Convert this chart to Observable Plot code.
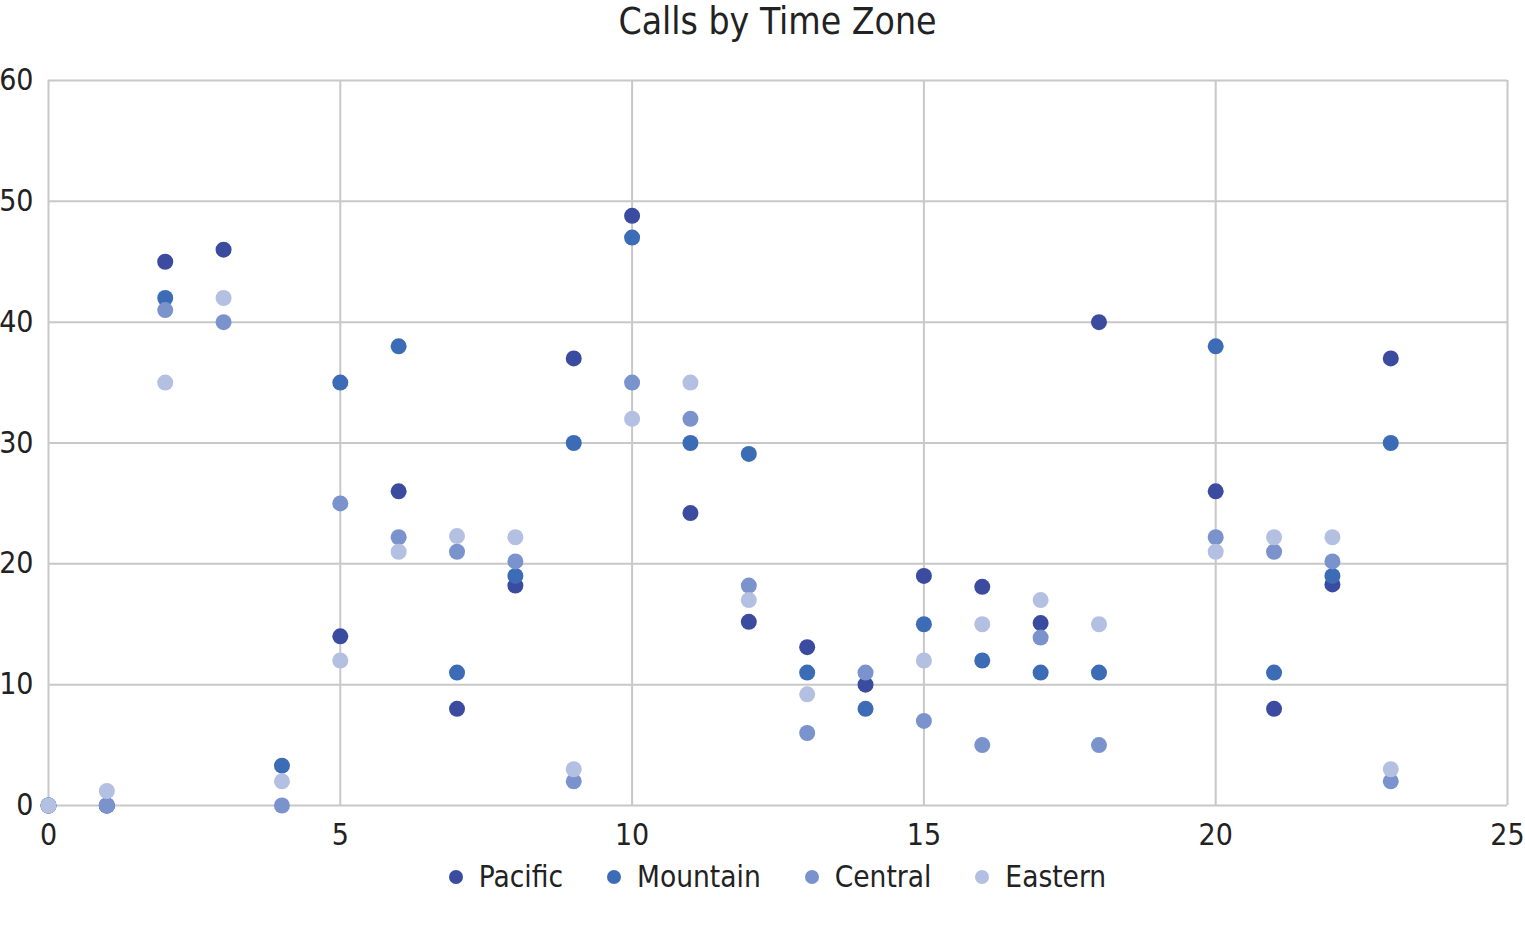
<!DOCTYPE html>
<html>
<head>
<meta charset="utf-8">
<script src="https://cdn.jsdelivr.net/npm/d3@7"></script>
<script src="https://cdn.jsdelivr.net/npm/@observablehq/plot@0.6"></script>
<style>
  html, body { margin: 0; padding: 0; background: #fff; }
  body { width: 1525px; height: 925px; overflow: hidden; font-family: "DejaVu Sans Condensed", "DejaVu Sans", sans-serif; font-stretch: condensed; color: #222; }
  svg, svg text { font-stretch: condensed; }
  #wrap { position: relative; width: 1525px; height: 925px; }
  #title { position: absolute; left: 48px; width: 1459px; top: -3px; text-align: center; font-size: 37px; line-height: 50px; color: #222; }
  #chart { position: absolute; left: 0; top: 0; }
  #legend { position: absolute; left: 48px; width: 1459px; top: 857px; display: flex; justify-content: center; align-items: center; font-size: 29.5px; line-height: 40px; color: #222; }
  .item { display: flex; align-items: center; margin: 0 22px; }
  .sw { width: 14px; height: 14px; border-radius: 50%; margin-right: 16px; }
</style>
</head>
<body>
<div id="wrap">
  <div id="chart"></div>
  <div id="title">Calls by Time Zone</div>
  <div id="legend"></div>
</div>
<script>
const hours = [0,1,2,3,4,5,6,7,8,9,10,11,12,13,14,15,16,17,18,19,20,21,22,23];
const pacific  = [0,0,45,46,null,14,26,8,18.2,37,48.8,24.2,15.2,13.1,10,19,18.1,15.1,40,null,26,8,18.3,37];
const mountain = [0,0,42,null,3.3,35,38,11,19,30,47,30,29.1,11,8,15,12,11,11,null,38,11,19,30];
const central  = [0,0,41,40,0,25,22.2,21,20.2,2,35,32,18.2,6,11,7,5,13.9,5,null,22.2,21,20.2,2];
const eastern  = [0,1.2,35,42,2,12,21,22.3,22.2,3,32,35,17,9.2,null,12,15,17,15,null,21,22.2,22.2,3];
const seriesNames = ["Pacific","Mountain","Central","Eastern"];
const seriesColors = ["#3a4ba0","#3d6cb6","#7b93cd","#b3c0e2"];
const xTicks = [0,5,10,15,20,25];
const yTicks = [0,10,20,30,40,50,60];

const seriesValues = [pacific, mountain, central, eastern];
const data = [];
seriesNames.forEach((name, i) => {
  hours.forEach((h, j) => {
    const v = seriesValues[i][j];
    if (v !== null && v !== undefined) data.push({hour: h, value: v, series: name});
  });
});

const font = '"DejaVu Sans Condensed", "DejaVu Sans", sans-serif';
const chart = Plot.plot({
  width: 1525,
  height: 860,
  marginLeft: 48,
  marginRight: 18,
  marginTop: 80,
  marginBottom: 55,
  style: {fontFamily: font, fontSize: "30px", color: "#222", background: "transparent", fontStretch: "condensed", overflow: "visible"},
  x: {domain: [0, 25]},
  y: {domain: [0, 60]},
  color: {domain: seriesNames, range: seriesColors},
  marks: [
    Plot.gridX(xTicks, {stroke: "#c8c8c8", strokeOpacity: 1, strokeWidth: 2}),
    Plot.gridY(yTicks, {stroke: "#c8c8c8", strokeOpacity: 1, strokeWidth: 2}),
    Plot.axisX(xTicks, {tickSize: 0, tickPadding: 18, label: null, fontSize: 30, fill: "#222"}),
    Plot.axisY(yTicks, {tickSize: 0, tickPadding: 15, label: null, fontSize: 30, fill: "#222"}),
    Plot.dot(data, {x: "hour", y: "value", fill: "series", r: 8})
  ]
});
document.getElementById("chart").appendChild(chart);

const legend = document.getElementById("legend");
seriesNames.forEach((name, i) => {
  const item = document.createElement("div");
  item.className = "item";
  const sw = document.createElement("span");
  sw.className = "sw";
  sw.style.background = seriesColors[i];
  const label = document.createElement("span");
  label.textContent = name;
  item.appendChild(sw);
  item.appendChild(label);
  legend.appendChild(item);
});
</script>
</body>
</html>
